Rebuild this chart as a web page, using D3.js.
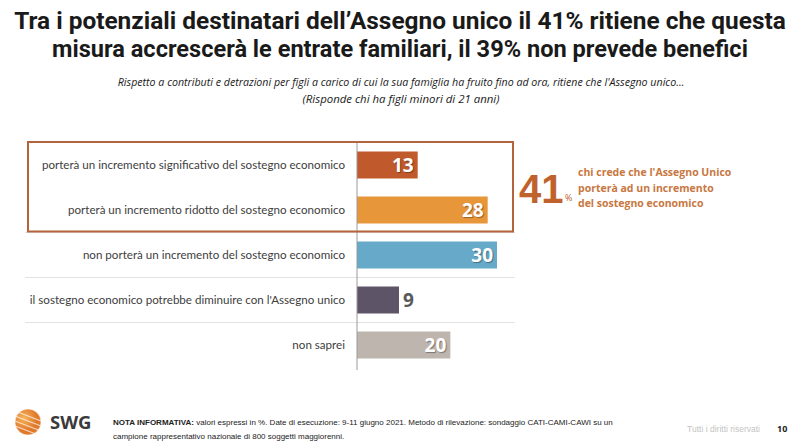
<!DOCTYPE html>
<html><head><meta charset="utf-8">
<script src="https://cdn.jsdelivr.net/npm/d3@7"></script>
<style>body{margin:0;background:#fff}svg{display:block}</style>
</head><body>
<script>
const categories = [
  "porterà un incremento significativo del sostegno economico",
  "porterà un incremento ridotto del sostegno economico",
  "non porterà un incremento del sostegno economico",
  "il sostegno economico potrebbe diminuire con l'Assegno unico",
  "non saprei"
];
const values = [13, 28, 30, 9, 20];
const colors = ["#c0592b", "#e8963a", "#67a9c9", "#5e5468", "#bdb5ae"];
const titleLines = [
  "Tra i potenziali destinatari dell’Assegno unico il 41% ritiene che questa",
  "misura accrescerà le entrate familiari, il 39% non prevede benefici"
];
const subtitleLines = [
  "Rispetto a contributi e detrazioni per figli a carico di cui la sua famiglia ha fruito fino ad ora, ritiene che l'Assegno unico…",
  "(Risponde chi ha figli minori di 21 anni)"
];
const highlightValue = 41;
const highlightText = ["chi crede che l'Assegno Unico", "porterà ad un incremento", "del sostegno economico"];

const W = 800, H = 445;
const svg = d3.select("body").append("svg").attr("width", W).attr("height", H);

// scale font-size so that the natural width matches a target width
function fitWidth(sel, target) {
  sel.each(function () {
    const fs = parseFloat(this.getAttribute("font-size"));
    const w = this.getComputedTextLength();
    if (w > 0) this.setAttribute("font-size", (fs * target / w).toFixed(2));
  });
}

// Title
svg.selectAll("text.title").data(titleLines).join("text").attr("class", "title")
  .attr("x", 400).attr("y", (d, i) => 29 + i * 28)
  .attr("text-anchor", "middle")
  .attr("font-family", "Liberation Sans Narrow, Roboto, sans-serif")
  .attr("font-weight", "bold").attr("font-size", 26).attr("fill", "#1a1a1a")
  .text(d => d)
  .each(function (d, i) { fitWidth(d3.select(this), i === 0 ? 772 : 696); });

svg.selectAll("text.sub").data(subtitleLines).join("text").attr("class", "sub")
  .attr("x", 401).attr("y", (d, i) => 86 + i * 17)
  .attr("text-anchor", "middle")
  .attr("font-family", "Open Sans, sans-serif").attr("font-style", "italic")
  .attr("font-size", 10).attr("fill", "#1a1a1a")
  .text(d => d)
  .each(function (d, i) { fitWidth(d3.select(this), i === 0 ? 567 : 197); });

const x = d3.scaleLinear().domain([0, 30]).range([357, 497]);
const y = d3.scaleBand().domain(categories).range([142.5, 367.5]).paddingInner(0.4).paddingOuter(0.2);

// separators
const seps = [2, 3, 4].map(i => y(categories[i]) - y.step() * y.paddingInner() / 2);
svg.selectAll("line.sep").data(seps).join("line")
  .attr("x1", 25).attr("x2", 515).attr("y1", d => d).attr("y2", d => d)
  .attr("stroke", "#e3e3e3").attr("stroke-width", 1);

// bars
svg.selectAll("rect.bar").data(values).join("rect")
  .attr("x", x(0)).attr("y", (d, i) => y(categories[i]))
  .attr("width", d => x(d) - x(0)).attr("height", y.bandwidth())
  .attr("fill", (d, i) => colors[i]);

// axis line
svg.append("line").attr("x1", x(0)).attr("x2", x(0)).attr("y1", 142).attr("y2", 370)
  .attr("stroke", "#9a9a9a").attr("stroke-width", 1);

// category labels
svg.selectAll("text.cat").data(categories).join("text")
  .attr("x", 345).attr("y", d => y(d) + y.bandwidth() / 2 + 4)
  .attr("text-anchor", "end")
  .attr("font-family", "Lato, sans-serif").attr("font-size", 11.6).attr("fill", "#404040")
  .text(d => d);

// value labels
svg.selectAll("text.val").data(values).join("text")
  .attr("x", (d, i) => d < 10 ? x(d) + 4 : x(d) - 4)
  .attr("y", (d, i) => y(categories[i]) + y.bandwidth() / 2 + 7)
  .attr("text-anchor", d => d < 10 ? "start" : "end")
  .attr("font-family", "Open Sans, sans-serif").attr("font-weight", "bold").attr("font-size", 19)
  .attr("fill", d => d < 10 ? "#595959" : "#ffffff")
  .style("text-shadow", d => d < 10 ? "none" : "1px 1px 1px rgba(0,0,0,0.35)")
  .text(d => d);

// highlight box
svg.append("rect").attr("x", 28).attr("y", 142).attr("width", 485).attr("height", 89.5)
  .attr("fill", "none").attr("stroke", "#b4633a").attr("stroke-width", 2);

svg.append("text").attr("x", 519).attr("y", 203)
  .attr("font-family", "Liberation Sans Narrow, sans-serif").attr("font-weight", "bold").attr("fill", "#c0622d")
  .attr("font-size", 40)
  .text(highlightValue);
svg.append("text").attr("x", 565).attr("y", 201)
  .attr("font-family", "Open Sans, sans-serif").attr("fill", "#c0622d").attr("font-size", 9)
  .text("%");

svg.selectAll("text.hlt").data(highlightText).join("text")
  .attr("x", 578).attr("y", (d, i) => 176 + i * 15.5)
  .attr("font-family", "Open Sans, sans-serif").attr("font-weight", "bold").attr("font-size", 10.5)
  .attr("fill", "#c8773f").text(d => d);

// footer logo
const logo = svg.append("g").attr("transform", "translate(28,422)");
const grad = svg.append("defs").append("radialGradient").attr("id", "lg").attr("cx", "35%").attr("cy", "35%");
grad.append("stop").attr("offset", "0%").attr("stop-color", "#f6b35a");
grad.append("stop").attr("offset", "100%").attr("stop-color", "#e0782a");
logo.append("circle").attr("r", 13).attr("fill", "url(#lg)");
[-6, -1, 4, 9].forEach(o => logo.append("line").attr("x1", -13).attr("x2", 13)
  .attr("y1", o - 5).attr("y2", o + 5).attr("stroke", "#fff").attr("stroke-width", 1.2).attr("opacity", 0.7));
logo.append("circle").attr("r", 13).attr("fill", "none").attr("stroke", "#fff").attr("stroke-width", 0.5);
svg.append("text").attr("x", 50).attr("y", 429).attr("font-family", "Open Sans, sans-serif")
  .attr("font-weight", "bold").attr("font-size", 18.5).attr("fill", "#3a3a3a").text("SWG");

const note = svg.append("text").attr("x", 113).attr("y", 425)
  .attr("font-family", "Liberation Sans Narrow, sans-serif").attr("font-size", 8).attr("fill", "#222");
note.append("tspan").attr("font-weight", "bold").text("NOTA INFORMATIVA: ");
note.append("tspan").text("valori espressi in %. Date di esecuzione: 9-11 giugno 2021. Metodo di rilevazione: sondaggio CATI-CAMI-CAWI su un");
svg.append("text").attr("x", 113).attr("y", 439)
  .attr("font-family", "Liberation Sans Narrow, sans-serif").attr("font-size", 8).attr("fill", "#222")
  .text("campione rappresentativo nazionale di 800 soggetti maggiorenni.");
svg.append("text").attr("x", 760).attr("y", 432).attr("text-anchor", "end")
  .attr("font-family", "Liberation Sans Narrow, sans-serif").attr("font-size", 8.5).attr("fill", "#c4c4c4")
  .text("Tutti i diritti riservati");
svg.append("text").attr("x", 777).attr("y", 432)
  .attr("font-family", "Open Sans, sans-serif").attr("font-weight", "bold").attr("font-size", 9).attr("fill", "#222")
  .text("10");
</script>
</body></html>
